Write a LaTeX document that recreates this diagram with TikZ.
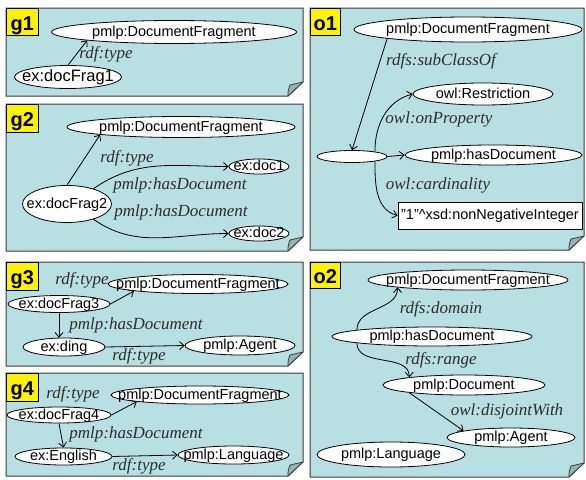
\documentclass[tikz,border=0pt]{standalone}
\usepackage{fontspec}
\setmainfont{Liberation Serif}
\setsansfont{Liberation Sans}
\usetikzlibrary{shapes.geometric,arrows.meta,calc}
\definecolor{panelbg}{RGB}{184,223,226}
\definecolor{foldbg}{RGB}{150,178,180}
\definecolor{panelline}{RGB}{60,60,60}
\definecolor{labeltext}{RGB}{45,45,45}
\newcommand\ntext[1]{\smash{\makebox[0pt]{\raisebox{-0.3em}{#1}}}}
\newcommand\tagtext[1]{\smash{\makebox[0pt]{\raisebox{-8.5pt}{#1}}}}
\newcommand\mypanel[4]{%
  \draw[panelshape] (#1,#2) -- (#3,#2) -- (#3,#4-14) -- (#3-15,#4) -- (#1,#4) -- cycle;
  \draw[foldshape] (#3,#4-14) -- (#3-13,#4-11) to[bend right=12] (#3-15,#4) -- cycle;
}
\begin{document}
\begin{tikzpicture}[x=1pt,y=-1pt,
  panelshape/.style={draw=panelline,fill=panelbg,line width=1pt,line join=miter},
  foldshape/.style={draw=panelline,fill=foldbg,line width=0.8pt,line join=round},
  nd/.style={ellipse,draw=black,line width=0.8pt,fill=white,inner sep=0pt,
    font=\sffamily\fontsize{14.5}{16}\selectfont},
  lit/.style={rectangle,draw=black,line width=0.8pt,fill=white,inner sep=0pt,
    font=\sffamily\fontsize{14.5}{16}\selectfont},
  lbl/.style={font=\rmfamily\itshape\fontsize{17}{19}\selectfont,text=labeltext,inner sep=0pt},
  arr/.style={line width=0.8pt,draw=black,-{Straight Barb[length=4.5pt,width=8pt]}},
  tag/.style={draw=black,line width=0.8pt,fill=yellow,inner sep=0pt,anchor=north west,
    font=\sffamily\bfseries\fontsize{20}{22}\selectfont},
]
\useasboundingbox (0,0) rectangle (586,479);

% ---------------- g1 ----------------
\mypanel{6}{8}{303}{96}
\node[tag,minimum width=32pt,minimum height=27pt] (tg1) at (6,8) {\tagtext{g1}};
\node[nd,minimum width=245pt,minimum height=23pt] (g1df) at (174,32) {\ntext{pmlp:DocumentFragment}};
\node[nd,minimum width=107pt,minimum height=23pt,font=\sffamily\fontsize{16.5}{18}\selectfont] (g1f) at (68,77) {\ntext{ex:docFrag1}};
\draw[arr] (g1f.north) -- (g1df.south west);
\node[lbl] (g1l) at (106,54) {rdf:type};

% ---------------- g2 ----------------
\mypanel{6}{104}{303}{251}
\node[tag,minimum width=32pt,minimum height=28pt] (tg2) at (6,104) {\tagtext{g2}};
\node[nd,minimum width=228pt,minimum height=21pt] (g2df) at (181,127) {\ntext{pmlp:DocumentFragment}};
\node[nd,minimum width=89pt,minimum height=37pt] (g2f) at (67,204) {\ntext{ex:docFrag2}};
\node[nd,minimum width=60pt,minimum height=15pt] (g2d1) at (259,166.5) {\ntext{ex:doc1}};
\node[nd,minimum width=60pt,minimum height=15pt] (g2d2) at (259,233.5) {\ntext{ex:doc2}};
\draw[arr] (g2f.north) -- (g2df.south west);
\draw[arr] (g2f.30) to[out=35,in=180] (g2d1.west);
\draw[arr] (g2f.-30) to[out=-35,in=180] (g2d2.west);
\node[lbl] (g2l1) at (127,158) {rdf:type};
\node[lbl] (g2l2) at (180,185) {pmlp:hasDocument};
\node[lbl] (g2l3) at (181,212) {pmlp:hasDocument};

% ---------------- g3 ----------------
\mypanel{6}{262}{303}{366}
\node[tag,minimum width=32pt,minimum height=28pt] (tg3) at (6,262) {\tagtext{g3}};
\node[nd,minimum width=180pt,minimum height=19pt] (g3df) at (198,284) {\ntext{pmlp:DocumentFragment}};
\node[nd,minimum width=102pt,minimum height=17pt] (g3f) at (59,304) {\ntext{ex:docFrag3}};
\node[nd,minimum width=82pt,minimum height=18pt] (g3d) at (64,347) {\ntext{ex:ding}};
\node[nd,minimum width=110pt,minimum height=19pt] (g3a) at (240,345.5) {\ntext{pmlp:Agent}};
\draw[arr] (g3f.east) -- (g3df.south west);
\draw[arr] (g3f.south) -- (g3f.south |- g3d.north);
\draw[arr] (g3d.east) -- (g3a.west);
\node[lbl] (g3l1) at (82,280) {rdf:type};
\node[lbl] (g3l2) at (136,325) {pmlp:hasDocument};
\node[lbl] (g3l3) at (139,356) {rdf:type};

% ---------------- g4 ----------------
\mypanel{6}{373}{303}{476}
\node[tag,minimum width=32pt,minimum height=28pt] (tg4) at (6,373) {\tagtext{g4}};
\node[nd,minimum width=178pt,minimum height=18pt] (g4df) at (200,395) {\ntext{pmlp:DocumentFragment}};
\node[nd,minimum width=104pt,minimum height=16pt] (g4f) at (59,415) {\ntext{ex:docFrag4}};
\node[nd,minimum width=97pt,minimum height=17pt] (g4e) at (63.5,456.5) {\ntext{ex:English}};
\node[nd,minimum width=111pt,minimum height=18pt] (g4g) at (233.5,455) {\ntext{pmlp:Language}};
\draw[arr] (g4f.east) -- (g4df.south west);
\draw[arr] (g4f.south) -- (g4e.north);
\draw[arr] (g4e.east) -- (g4g.west);
\node[lbl] (g4l1) at (73,394) {rdf:type};
\node[lbl] (g4l2) at (136,434) {pmlp:hasDocument};
\node[lbl] (g4l3) at (139,466) {rdf:type};

% ---------------- o1 ----------------
\mypanel{310}{8}{584}{250}
\node[tag,minimum width=30pt,minimum height=27pt] (to1) at (310,8) {\tagtext{o1}};
\node[nd,minimum width=228pt,minimum height=25pt] (o1df) at (468,29.5) {\ntext{pmlp:DocumentFragment}};
\node[nd,minimum width=140pt,minimum height=22pt] (o1r) at (483,94) {\ntext{owl:Restriction}};
\node[nd,minimum width=70pt,minimum height=12pt] (o1b) at (352,156.5) {};
\node[nd,minimum width=177pt,minimum height=20pt] (o1h) at (493.5,155) {\ntext{pmlp:hasDocument}};
\node[lit,minimum width=184pt,minimum height=27pt] (o1c) at (490,215.5) {\ntext{"1"\textasciicircum xsd:nonNegativeInteger}};
\draw[arr] (o1df.south west) -- (o1b.north);
\draw[arr] (o1b.12) to[out=90,in=195] (o1r.west);
\draw[arr] (o1b.east) -- (o1h.west);
\draw[arr] (o1b.-12) to[out=-90,in=165] (o1c.west);
\node[lbl] (o1l1) at (441,61.5) {rdfs:subClassOf};
\node[lbl] (o1l2) at (439,119) {owl:onProperty};
\node[lbl] (o1l3) at (438,185) {owl:cardinality};

% ---------------- o2 ----------------
\mypanel{310}{262}{584}{477}
\node[tag,minimum width=30pt,minimum height=26pt] (to2) at (310,262) {\tagtext{o2}};
\node[nd,minimum width=200pt,minimum height=20pt] (o2df) at (468,280) {\ntext{pmlp:DocumentFragment}};
\node[nd,minimum width=200pt,minimum height=19pt] (o2h) at (432,336.5) {\ntext{pmlp:hasDocument}};
\node[nd,minimum width=162pt,minimum height=20pt] (o2d) at (464,385) {\ntext{pmlp:Document}};
\node[nd,minimum width=128pt,minimum height=19pt] (o2a) at (511,437.5) {\ntext{pmlp:Agent}};
\node[nd,minimum width=148pt,minimum height=25pt] (o2g) at (391,454.5) {\ntext{pmlp:Language}};
\draw[arr] (o2h.175) to[out=90,in=-90] (o2df.186);
\draw[arr] (o2h.185) to[out=-90,in=90] (o2d.172);
\draw[arr] (o2d.188) -- (o2a.172);
\node[lbl] (o2l1) at (441,309) {rdfs:domain};
\node[lbl] (o2l2) at (441,360) {rdfs:range};
\node[lbl] (o2l3) at (507,411) {owl:disjointWith};
\end{tikzpicture}
\end{document}
